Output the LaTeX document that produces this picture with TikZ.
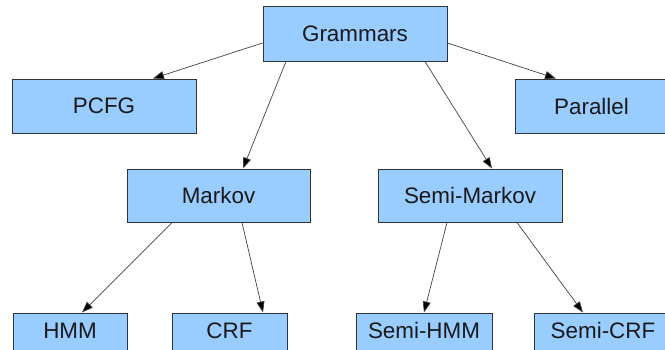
\documentclass[tikz,border=0pt]{standalone}
\usepackage{fontspec}
\setmainfont{Liberation Sans}
\usetikzlibrary{arrows.meta}
\definecolor{boxfill}{HTML}{99CCFF}
\definecolor{boxline}{HTML}{333333}
\definecolor{conn}{HTML}{444444}
\begin{document}
\begin{tikzpicture}[x=1pt,y=-1pt,
  box/.style={draw=boxline, fill=boxfill, line width=1pt, inner sep=0pt,
    font=\fontsize{22.4}{26}\selectfont, text=black!90},
  toprow/.style={box, minimum height=55pt},
  midrow/.style={box, minimum height=53pt},
  botrow/.style={box, anchor=base, text height=25pt, text depth=15pt, minimum height=0pt},
  arr/.style={draw=conn, line width=0.7pt, -{Triangle[length=11pt,width=8pt,fill=black]}}]
\clip (0,0) rectangle (665,349);
\fill[white] (0,0) rectangle (665,349);
% nodes
\node[toprow, minimum width=184pt] (g) at (355,33.5) {Grammars};
\node[box, minimum width=184pt, minimum height=54pt] (pcfg) at (104,106) {PCFG};
\node[box, minimum width=153pt, minimum height=54pt] (par) at (591.5,106) {Parallel};
\node[midrow, minimum width=183pt] (mk) at (218.5,195.5) {Markov};
\node[midrow, minimum width=184pt] (sm) at (470,195.5) {Semi-Markov};
\node[botrow, minimum width=114pt] (hmm) at (70,338) {HMM};
\node[botrow, minimum width=115pt] (crf) at (229.5,338) {CRF};
\node[botrow, minimum width=136pt] (shmm) at (424,338) {Semi-HMM};
\node[botrow, minimum width=138pt] (scrf) at (603,338) {Semi-CRF};
% connectors
\draw[arr] ([yshift=-9.5pt]g.west) -- ([xshift=49pt]pcfg.north);
\draw[arr] ([xshift=-69pt]g.south) -- ([xshift=24.5pt]mk.north);
\draw[arr] ([xshift=70pt]g.south) -- ([xshift=22pt]sm.north);
\draw[arr] ([yshift=-9.5pt]g.east) -- ([xshift=-35.5pt]par.north);
\draw[arr] ([xshift=-46.5pt]mk.south) -- ([xshift=12pt]hmm.north);
\draw[arr] ([xshift=23.5pt]mk.south) -- ([xshift=33.5pt]crf.north);
\draw[arr] ([xshift=-23pt]sm.south) -- (shmm.north);
\draw[arr] ([xshift=47pt]sm.south) -- ([xshift=-20pt]scrf.north);
\end{tikzpicture}
\end{document}
